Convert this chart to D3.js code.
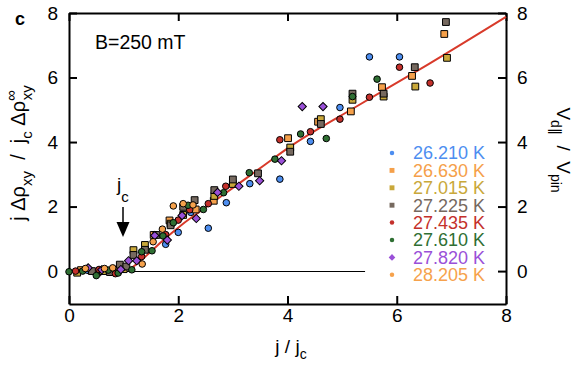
<!DOCTYPE html>
<html>
<head>
<meta charset="utf-8">
<script src="https://cdn.jsdelivr.net/npm/d3@7"></script>
<style>
body { margin: 0; background: #fff; }
svg { font-family: "Liberation Sans", Arial, sans-serif; }
.axis path, .axis line { stroke: #000; stroke-width: 2; }
.axis text { font-size: 19px; fill: #000; font-family: "Liberation Sans", Arial, sans-serif; }
</style>
</head>
<body>
<div id="chart-area"></div>
<script>

// data: [j/jc, value]
var s26210 = [[0.35,0.02],[0.75,-0.04],[1.77,0.83],[2.0,1.2],[2.23,1.82],[2.55,1.33],[2.88,2.12],[3.31,2.71],[3.86,2.85],[4.42,4.02],[4.96,5.07],[5.50,6.64],[6.05,6.64]];
var s26630 = [[0.22,0.03],[0.52,-0.04],[0.82,0.04],[1.55,1.12],[1.84,1.57],[2.32,1.91],[2.65,2.18],[4.01,4.12],[4.56,4.63],[5.16,4.95],[5.73,5.70],[6.28,6.05],[6.87,7.35]];
var s27015 = [[0.15,-0.05],[0.62,0.0],[1.0,0.06],[1.18,0.65],[1.39,0.81],[1.86,1.47],[2.09,1.74],[2.66,2.33],[3.0,2.70],[4.05,3.83],[4.61,4.71],[5.19,5.31],[5.76,5.41],[6.34,5.72],[6.92,6.61]];
var s27225 = [[0.42,0.0],[0.75,-0.03],[0.93,0.2],[1.05,0.14],[1.18,0.5],[1.39,0.66],[1.6,1.12],[1.86,1.42],[2.09,1.99],[2.30,2.2],[2.66,2.51],[3.0,2.84],[3.46,3.03],[4.05,3.70],[4.61,4.56],[5.19,5.50],[5.76,5.50],[6.33,6.32],[6.90,7.72]];
var s27435 = [[0.12,0.0],[0.55,0.05],[0.85,-0.08],[1.33,0.45],[1.77,1.13],[2.0,1.58],[2.21,1.90],[2.55,2.09],[2.87,2.63],[3.86,4.07],[4.42,4.32],[4.96,4.71],[5.50,5.39],[6.05,6.32],[6.61,5.83]];
var s27610 = [[0.0,-0.02],[0.25,0.0],[0.5,-0.14],[0.72,0.03],[0.9,-0.06],[1.15,0.04],[1.33,0.6],[1.52,0.63],[1.72,1.09],[1.91,1.5],[2.18,2.04],[2.46,1.91],[2.83,2.43],[3.30,3.05],[3.77,3.47],[4.24,4.25],[4.71,4.11],[5.19,5.41],[5.64,5.95]];
var s27820 = [[0.35,0.1],[0.6,0.04],[0.95,0.05],[1.09,0.32],[1.24,0.32],[1.57,1.1],[1.80,0.96],[2.07,1.72],[2.33,1.63],[2.72,2.44],[3.11,2.63],[3.49,2.8],[3.89,3.42],[4.27,5.10],[4.65,5.10]];
var s28205 = [[0.3,0.08],[0.65,0.08],[0.8,0.1],[1.34,0.22],[1.54,0.91],[1.71,1.3],[1.91,2.02],[2.09,2.09],[2.27,2.05]];

var temps = ["26.210 K","26.630 K","27.015 K","27.225 K","27.435 K","27.610 K","27.820 K","28.205 K"];

// fitted curve
var fitJ = [1.15,1.39,1.7,2.06,2.5,3.0,3.58,4.04,5.2,6.42,8];
var fitV = [0.1,0.44,0.92,1.43,1.97,2.58,3.29,3.85,5.04,6.25,7.88];

var tickVals = [0,2,4,6,8];

var series = [s26210,s26630,s27015,s27225,s27435,s27610,s27820,s28205];
var colors = ["#4d8ef0","#f5a04a","#c9a83a","#76695f","#c4302b","#2f6f33","#9a50d8","#f6a24c"];
var shapes = ["circle","square","square","square","circle","circle","diamond","circle"];

var margin = {left : 69, right : 75, top : 13, bottom : 63};
var width = 581 - margin.left - margin.right;
var height = 367 - margin.top - margin.bottom;

var svg = d3.select("#chart-area")
  .append("svg")
  .attr("width", 581)
  .attr("height", 367);

var g = svg.append("g")
  .attr("transform", "translate(" + margin.left + "," + margin.top + ")");

var x = d3.scaleLinear().domain([0,8]).range([0,width]);
var y = d3.scaleLinear().domain([-1.02,8]).range([height,0]);

// marker path: diamonds are squares turned by 45 degrees
function marker(shape, big) {
  if (shape == "circle") return d3.symbol().type(d3.symbolCircle).size(big ? 34 : 16)();
  if (shape == "square") return d3.symbol().type(d3.symbolSquare).size(big ? 46 : 24)();
  return d3.symbol().type(d3.symbolSquare).size(big ? 34 : 22)();
}
function rot(shape) { return shape == "diamond" ? " rotate(45)" : ""; }

// axes (ticks point inward)
g.append("g").attr("class","axis")
  .attr("transform","translate(0," + height + ")")
  .call(d3.axisBottom(x).tickValues(tickVals).tickSizeInner(-8).tickSizeOuter(0).tickPadding(5));
g.append("g").attr("class","axis")
  .call(d3.axisTop(x).tickValues(tickVals).tickSizeInner(-8).tickSizeOuter(0).tickFormat(""));
g.append("g").attr("class","axis")
  .call(d3.axisLeft(y).tickValues(tickVals).tickSizeInner(-8).tickSizeOuter(0).tickPadding(11));
g.append("g").attr("class","axis")
  .attr("transform","translate(" + width + ",0)")
  .call(d3.axisRight(y).tickValues(tickVals).tickSizeInner(-8).tickSizeOuter(0).tickPadding(11));

// zero baseline
g.append("line")
  .attr("x1", x(0)).attr("x2", x(5.42))
  .attr("y1", Math.round(y(0)) + 0.5).attr("y2", Math.round(y(0)) + 0.5)
  .attr("stroke","#000").attr("stroke-width",1);

// fit curve
var fitLine = d3.line()
  .x((d,i) => x(fitJ[i]))
  .y(d => y(d))
  .curve(d3.curveMonotoneX);
g.append("path")
  .attr("d", fitLine(fitV))
  .attr("fill","none")
  .attr("stroke","#d83a2a")
  .attr("stroke-width",2);

// points
series.forEach((s,i) => {
  g.selectAll(".p" + i).data(s).enter().append("path")
    .attr("class","p" + i)
    .attr("d", marker(shapes[i], true))
    .attr("transform", d => "translate(" + x(d[0]) + "," + y(d[1]) + ")" + rot(shapes[i]))
    .attr("fill", colors[i])
    .attr("stroke","#000")
    .attr("stroke-width",1);
});

// legend
var legend = svg.append("g").attr("transform","translate(392,153)");
temps.forEach((t,i) => {
  var row = legend.append("g").attr("transform","translate(0," + (i * 17.4) + ")");
  row.append("path")
    .attr("d", marker(shapes[i], false))
    .attr("transform", rot(shapes[i]))
    .attr("fill", colors[i]);
  row.append("text")
    .attr("x", 21)
    .attr("dy", "0.36em")
    .attr("font-size","18px")
    .attr("fill", colors[i])
    .text(t);
});

// panel letter and field
svg.append("text").attr("x",15).attr("y",25)
  .attr("font-size","18px").attr("font-weight","bold").text("c");
svg.append("text").attr("x",95).attr("y",49)
  .attr("font-size","19.5px").text("B=250 mT");

// j_c arrow
svg.append("line")
  .attr("x1",123).attr("x2",123).attr("y1",207).attr("y2",225)
  .attr("stroke","#000").attr("stroke-width",1.5);
svg.append("path")
  .attr("d","M116.5,222 L129.5,222 L123,237 Z")
  .attr("fill","#000");
var jc = svg.append("text").attr("x",117).attr("y",191).attr("font-size","19px");
jc.append("tspan").text("j");
jc.append("tspan").attr("dy",11).attr("font-size","15px").text("c");

// x label
var xl = svg.append("text").attr("x",291).attr("y",353)
  .attr("text-anchor","middle").attr("font-size","19px");
xl.append("tspan").text("j / j");
xl.append("tspan").attr("dy",6).attr("font-size","14px").text("c");

// left label
var yl = svg.append("text")
  .attr("transform","translate(25,153) rotate(-90)")
  .attr("text-anchor","middle").attr("font-size","20px");
yl.append("tspan").text("j \u0394\u03c1");
yl.append("tspan").attr("dy",7).attr("font-size","15px").text("xy");
yl.append("tspan").attr("dy",-7).text("\u00a0\u00a0/\u00a0\u00a0j");
yl.append("tspan").attr("dy",7).attr("font-size","15px").text("c");
yl.append("tspan").attr("dy",-7).text(" \u0394\u03c1");
yl.append("tspan").attr("dy",-9).attr("font-size","15px").text("\u221e");
yl.append("tspan").attr("dx",-10).attr("dy",16).attr("font-size","15px").text("xy");

// right label
var rl = svg.append("text")
  .attr("transform","translate(557,150) rotate(90)")
  .attr("text-anchor","middle").attr("font-size","19px");
rl.append("tspan").text("V");
rl.append("tspan").attr("dy",6).attr("font-size","14px").text("d\u2225");
rl.append("tspan").attr("dy",-6).text("\u00a0\u00a0/\u00a0\u00a0V");
rl.append("tspan").attr("dy",6).attr("font-size","14px").text("pin");

</script>
</body>
</html>
